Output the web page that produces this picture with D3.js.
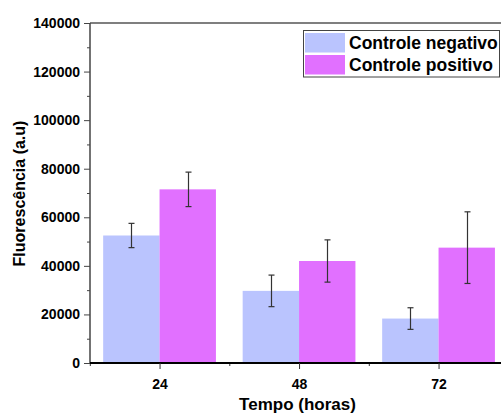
<!DOCTYPE html>
<html><head><meta charset="utf-8">
<script src="https://cdn.jsdelivr.net/npm/d3@7"></script>
<style>
body{margin:0;background:#fff;}
text{font-family:"Liberation Sans",Arial,sans-serif;font-weight:bold;fill:#000;}
</style></head>
<body><svg id="c" width="501" height="415"></svg>
<script>
const categories = [24, 48, 72];
const seriesNames = ["Controle negativo", "Controle positivo"];
const negValues = [52500, 29700, 18300];
const negErrors = [5000, 6500, 4450];
const posValues = [71500, 42000, 47500];
const posErrors = [7100, 8700, 14750];
const yTicks = [0, 20000, 40000, 60000, 80000, 100000, 120000, 140000];
const colors = ["#BAC4FE", "#E170FF"];
const FONT = "'Liberation Sans', Arial, sans-serif";

const svg = d3.select("#c");
const x = d3.scaleLinear().domain([12, 84]).range([89.8, 508.3]);
const y = d3.scaleLinear().domain([0, 140000]).range([363, 23]);
const barW = x(24) - x(24 - 9.7);

const series = [
  {name: seriesNames[0], values: negValues, errors: negErrors, color: colors[0], side: -1},
  {name: seriesNames[1], values: posValues, errors: posErrors, color: colors[1], side: 0}
];

// bars
series.forEach(s => {
  svg.append("g").selectAll("rect").data(categories).join("rect")
    .attr("x", (c) => s.side < 0 ? x(c) - barW : x(c))
    .attr("width", barW)
    .attr("y", (c, i) => y(s.values[i]))
    .attr("height", (c, i) => y(0) - y(s.values[i]))
    .attr("fill", s.color);
});

// error bars
series.forEach(s => {
  const g = svg.append("g").attr("stroke", "#333").attr("stroke-width", 1.2);
  categories.forEach((c, i) => {
    const cx = Math.round(s.side < 0 ? x(c) - barW / 2 : x(c) + barW / 2) + 0.5;
    const hi = y(s.values[i] + s.errors[i]), lo = y(s.values[i] - s.errors[i]);
    g.append("line").attr("x1", cx).attr("x2", cx).attr("y1", hi).attr("y2", lo);
    g.append("line").attr("x1", cx - 3).attr("x2", cx + 3).attr("y1", hi).attr("y2", hi);
    g.append("line").attr("x1", cx - 3).attr("x2", cx + 3).attr("y1", lo).attr("y2", lo);
  });
});

// top frame line
svg.append("line").attr("x1", 90).attr("x2", 501).attr("y1", 23).attr("y2", 23)
  .attr("stroke", "#555").attr("stroke-width", 1.5);

// y axis
const yMinor = d3.axisLeft(y).tickValues(d3.range(10000, 140000, 20000)).tickSize(3).tickFormat("");
const gyMinor = svg.append("g").attr("transform", "translate(90,0)").call(yMinor);
gyMinor.select(".domain").remove();
gyMinor.selectAll("line").attr("stroke", "#444");
const yAxis = d3.axisLeft(y).tickValues(yTicks).tickSize(6).tickPadding(4).tickFormat(d3.format("d"));
const gy = svg.append("g").attr("transform", "translate(90,0)").call(yAxis);
gy.select(".domain").attr("stroke", "#444").attr("stroke-width", 1.5).attr("d", "M0,23V363");
gy.selectAll("line").attr("stroke", "#444");
gy.selectAll("text").style("font-size", "14px").style("font-family", FONT).style("font-weight", "bold");

// x axis
const xMinor = d3.axisBottom(x).tickValues([12, 36, 60]).tickSize(3).tickFormat("");
const gxMinor = svg.append("g").attr("transform", "translate(0,363)").call(xMinor);
gxMinor.select(".domain").remove();
gxMinor.selectAll("line").attr("stroke", "#333");
const xAxis = d3.axisBottom(x).tickValues(categories).tickSize(6).tickPadding(10).tickFormat(d3.format("d"));
const gx = svg.append("g").attr("transform", "translate(0,363)").call(xAxis);
gx.select(".domain").attr("stroke", "#000").attr("stroke-width", 2).attr("d", "M90,0H501");
gx.selectAll("line").attr("stroke", "#333");
gx.selectAll("text").style("font-size", "14px").style("font-family", FONT).style("font-weight", "bold");

// axis titles
svg.append("text").attr("x", 297.5).attr("y", 410).attr("text-anchor", "middle")
  .style("font-size", "17px").text("Tempo (horas)");
svg.append("text").attr("transform", "translate(25,193.5) rotate(-90)").attr("text-anchor", "middle")
  .style("font-size", "16px").text("Fluorescência (a.u)");

// legend
const lg = svg.append("g");
lg.append("rect").attr("x", 303.5).attr("y", 30.5).attr("width", 196).attr("height", 46.5)
  .attr("fill", "#fff").attr("stroke", "#444").attr("stroke-width", 1);
series.forEach((s, i) => {
  lg.append("rect").attr("x", 305).attr("y", 33 + i * 22).attr("width", 40).attr("height", 19.5).attr("fill", s.color);
  lg.append("text").attr("x", 349).attr("y", 49 + i * 21.5).style("font-size", "17.5px").text(s.name);
});
</script></body></html>
